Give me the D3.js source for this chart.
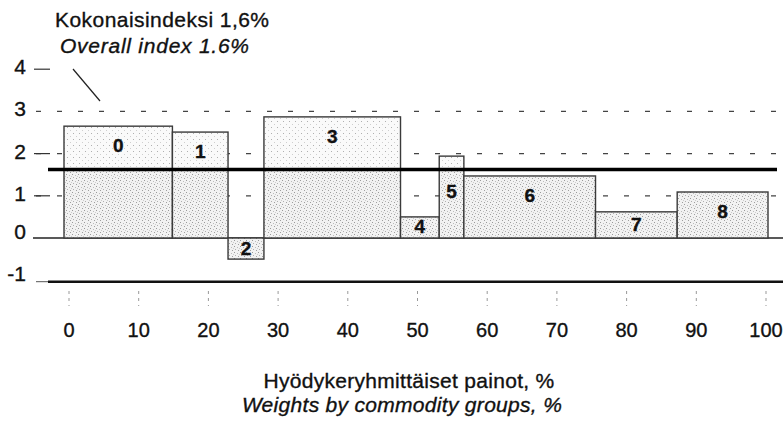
<!DOCTYPE html>
<html lang="fi">
<head>
<meta charset="UTF-8">
<title>Hyödykeryhmittäiset painot</title>
<script src="https://cdn.jsdelivr.net/npm/d3@7"></script>
<style>
    body { margin: 0; padding: 0; overflow: hidden; background: #fff; }
    svg { display: block; }
    text { font-family: "Liberation Sans", Arial, sans-serif; fill: #111; stroke: #111; stroke-width: 0.35px; }
</style>
</head>
<body>
<svg id="chart" width="783" height="422"></svg>
<script>
// commodity groups 0..8, weight (%) and change (%)
var groups = ["0", "1", "2", "3", "4", "5", "6", "7", "8"];
var weights = [15.4, 7.9, 5.1, 19.4, 5.5, 3.5, 18.7, 11.6, 12.9];
var changes = [2.65, 2.51, -0.5, 2.87, 0.5, 1.94, 1.47, 0.62, 1.09];
var overallIndex = 1.6;
var yTicks = [4, 3, 2, 1, 0, -1];
var xTicks = [0, 10, 20, 30, 40, 50, 60, 70, 80, 90, 100];
var gridValues = [3, 2, 1];

var svg = d3.select("#chart");

var x = d3.scaleLinear().domain([0, 100]).range([64, 768]);
var xLab = d3.scaleLinear().domain([0, 100]).range([69, 766]); // tick labels sit a bit off the bars in the scan
var y = d3.scaleLinear().domain([-1, 4]).range([280.2, 69.2]);

// stipple fills: light above the index line, denser below
var defs = svg.append("defs");
function stipple(id, bg, dots) {
    var p = defs.append("pattern")
        .attr("id", id)
        .attr("width", 6).attr("height", 6)
        .attr("patternUnits", "userSpaceOnUse");
    p.append("rect").attr("width", 6).attr("height", 6).attr("fill", bg);
    dots.forEach(d => {
        p.append("rect").attr("x", d[0]).attr("y", d[1])
            .attr("width", 1).attr("height", 1).attr("fill", d[2]);
    });
}
stipple("stipLight", "#fafafa", [[1, 1, "#b0b0b0"], [4, 4, "#cfcfcf"]]);
stipple("stipDense", "#f2f2f2", [[0, 0, "#9a9a9a"], [3, 1, "#bcbcbc"], [1, 3, "#b0b0b0"], [4, 4, "#9f9f9f"], [5, 2, "#cccccc"]]);

// dashed gridlines
svg.selectAll(".grid").data(gridValues).enter().append("line")
    .attr("x1", 36).attr("x2", 783)
    .attr("y1", d => y(d)).attr("y2", d => y(d))
    .attr("stroke", "#444").attr("stroke-width", 1.3)
    .attr("stroke-dasharray", "5,16");

// y ticks + labels
svg.selectAll(".ytick").data(yTicks.filter(d => d == 4 || d == 2 || d == 1)).enter().append("line")
    .attr("x1", 34).attr("x2", 50)
    .attr("y1", d => y(d)).attr("y2", d => y(d))
    .attr("stroke", "#333").attr("stroke-width", 1.2);

svg.selectAll(".ylab").data(yTicks).enter().append("text")
    .attr("x", 26).attr("y", d => y(d) + (d <= 0 ? 1 : 5))
    .attr("text-anchor", "end")
    .attr("font-size", 21)
    .text(d => d);

// zero line
svg.append("line")
    .attr("x1", 33).attr("x2", 783)
    .attr("y1", y(0)).attr("y2", y(0))
    .attr("stroke", "#222").attr("stroke-width", 1.3);

// bars
var cum = d3.cumsum(weights);
var bars = groups.map((g, i) => ({
    g: g,
    x0: cum[i] - weights[i],
    x1: cum[i],
    v: changes[i]
}));
var yIdx = y(overallIndex);

var bg = svg.selectAll(".bar").data(bars).enter().append("g");
// part above the index line
bg.filter(d => d.v > overallIndex).append("rect")
    .attr("x", d => x(d.x0))
    .attr("width", d => x(d.x1) - x(d.x0))
    .attr("y", d => y(d.v))
    .attr("height", d => yIdx - y(d.v))
    .attr("fill", "url(#stipLight)");
// part below the index line (or the negative bar)
bg.append("rect")
    .attr("x", d => x(d.x0))
    .attr("width", d => x(d.x1) - x(d.x0))
    .attr("y", d => d.v > overallIndex ? yIdx : y(Math.max(0, d.v)))
    .attr("height", d => d.v > overallIndex ? y(0) - yIdx : Math.abs(y(d.v) - y(0)))
    .attr("fill", "url(#stipDense)");
// outline
bg.append("rect")
    .attr("x", d => x(d.x0))
    .attr("width", d => x(d.x1) - x(d.x0))
    .attr("y", d => y(Math.max(0, d.v)))
    .attr("height", d => Math.abs(y(d.v) - y(0)))
    .attr("fill", "none")
    .attr("stroke", "#3a3a3a").attr("stroke-width", 1.4);

// -1 line
svg.append("line")
    .attr("x1", 36).attr("x2", 783)
    .attr("y1", y(-1) + 1.5).attr("y2", y(-1) + 1.5)
    .attr("stroke", "#555").attr("stroke-width", 1);
svg.append("line")
    .attr("x1", 48).attr("x2", 783)
    .attr("y1", y(-1) + 1.5).attr("y2", y(-1) + 1.5)
    .attr("stroke", "#111").attr("stroke-width", 2.6);

// overall index line
svg.append("line")
    .attr("x1", 48).attr("x2", 777)
    .attr("y1", yIdx - 1).attr("y2", yIdx - 1)
    .attr("stroke", "#000").attr("stroke-width", 3.4);

// bar labels
svg.selectAll(".blab").data(bars).enter().append("text")
    .attr("x", d => (x(d.x0) + x(d.x1)) / 2)
    .attr("y", d => {
        var top = y(Math.max(0, d.v)), bot = y(Math.min(0, d.v));
        var ly = (bot - top) < 40 ? (top + bot) / 2 : top + 20;
        if (Math.abs(ly - yIdx) < 12) ly = yIdx + 22;
        return ly + 6;
    })
    .attr("text-anchor", "middle")
    .attr("font-size", 19)
    .attr("font-weight", "bold")
    .text(d => d.g);

// x tick marks and labels
svg.selectAll(".xtick").data(xTicks).enter().append("line")
    .attr("x1", d => xLab(d)).attr("x2", d => xLab(d))
    .attr("y1", 291).attr("y2", 306)
    .attr("stroke", "#999").attr("stroke-width", 1)
    .attr("stroke-dasharray", "3,4");

svg.selectAll(".xlab").data(xTicks).enter().append("text")
    .attr("x", d => xLab(d)).attr("y", 337)
    .attr("text-anchor", "middle")
    .attr("font-size", 20)
    .text(d => d);

// axis titles
svg.append("text").attr("x", 409).attr("y", 388)
    .attr("text-anchor", "middle").attr("font-size", 21).attr("letter-spacing", 0.3)
    .text("Hyödykeryhmittäiset painot, %");
svg.append("text").attr("x", 402).attr("y", 412)
    .attr("text-anchor", "middle").attr("font-size", 21).attr("letter-spacing", 0.3)
    .attr("font-style", "italic")
    .text("Weights by commodity groups, %");

// annotation
svg.append("text").attr("x", 55).attr("y", 27)
    .attr("font-size", 21).attr("letter-spacing", 0.45)
    .text("Kokonaisindeksi 1,6%");
svg.append("text").attr("x", 60).attr("y", 53)
    .attr("font-size", 21).attr("letter-spacing", 0.75).attr("font-style", "italic")
    .text("Overall index 1.6%");
svg.append("line")
    .attr("x1", 73).attr("y1", 69).attr("x2", 100).attr("y2", 101)
    .attr("stroke", "#222").attr("stroke-width", 1.2);
</script>
</body>
</html>
